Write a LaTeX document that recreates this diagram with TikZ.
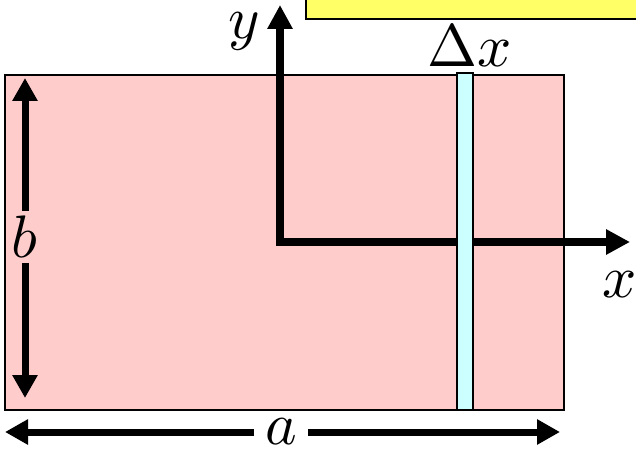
\documentclass[tikz,border=0pt]{standalone}
\usepackage{unicode-math}
\usepackage{xcolor}
\definecolor{plate}{HTML}{FFCCCC}
\definecolor{strip}{HTML}{CCFFFF}
\definecolor{note}{HTML}{FFFF66}
\usetikzlibrary{arrows.meta}

\begin{document}
\begin{tikzpicture}[x=1pt,y=-1pt,
    axis/.style={line width=8pt,line cap=rect,-{Triangle[length=24pt,width=24pt]}},
    dim/.style={line width=7pt,-{Triangle[length=23pt,width=24pt]}},
    lbl/.style={font=\fontsize{60}{60}\selectfont,inner sep=0pt}]
  \useasboundingbox (0,0) rectangle (636,449);
  \clip (0,0) rectangle (636,449);
  % Plate and coordinate axes.
  \draw[fill=plate,line width=2pt] (5,75) rectangle (564,410);
  \coordinate (O)    at (280,242);
  \coordinate (ytip) at (280,5);
  \coordinate (xtip) at (630,242);
  \draw[axis] (O) -- (ytip);
  \draw[axis] (O) -- (xtip);
  % Thin strip of width dx.
  \draw[fill=strip,line width=1.5pt] (457,73) rectangle (473,410);
  % Axis labels.
  \node[lbl] (ylab)  at (244,31) {$y$};
  \node[lbl,anchor=base] (dxlab) at (470,67) {$\Delta x$};
  \node[lbl,anchor=base] (xlab)  at (620,297) {$x$};
  % Dimension arrows with their labels in the gap.
  \coordinate (btop) at (25,78);
  \coordinate (bbot) at (25,398);
  \node[lbl,inner ysep=5pt] (blab) at (25,237) {$b$};
  \draw[dim] (blab.north) -- (btop);
  \draw[dim] (blab.south) -- (bbot);
  \coordinate (aleft)  at (5,432);
  \coordinate (aright) at (560,432);
  \node[lbl,inner xsep=11pt] (alab) at (281,432) {$a$};
  \draw[dim] (alab.west) -- (aleft);
  \draw[dim] (alab.east) -- (aright);
  % Yellow note box, cut by the frame.
  \draw[fill=note,line width=2pt] (306,-10) rectangle (650,19);
\end{tikzpicture}
\end{document}
